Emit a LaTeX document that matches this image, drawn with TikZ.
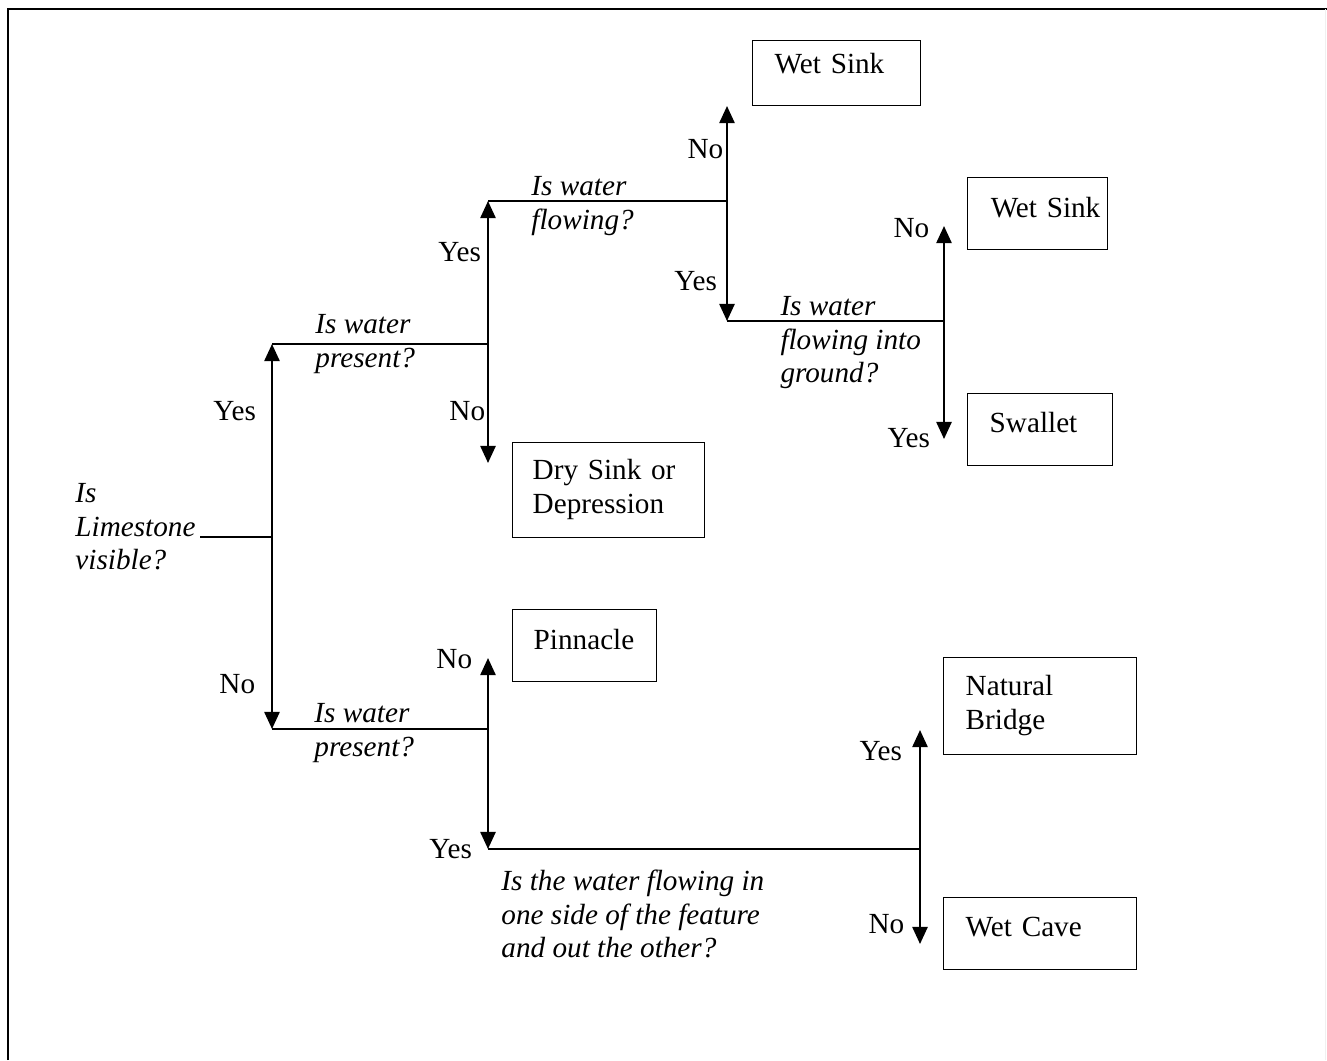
\documentclass[tikz,border=0pt]{standalone}
\usepackage{fontspec}
\setmainfont{Liberation Serif}
\usetikzlibrary{arrows.meta}
\newdimen\pxu \pxu=0.411pt
\begin{document}
\begin{tikzpicture}[x=0.411pt, y=-0.411pt,
  every node/.append style={font=\fontsize{12}{13.8}\selectfont},
  vline/.style={line width=0.9pt, -{Triangle[width=6.2pt,length=7pt]}},
  hline/.style={line width=0.55pt},
  lbl/.style={anchor=base west, inner sep=0pt},
  qtext/.style={anchor=north west, inner sep=0pt, align=left, font=\fontsize{12}{13.8}\selectfont\itshape},
  box/.style={draw, line width=0.6pt, anchor=north west, inner sep=0pt, align=left}]
\useasboundingbox (0,0) rectangle (1327,1060);
% frame
\draw[line width=0.9pt] (8,1060) -- (8,9) -- (1327,9);
\draw[gray!12, line width=0.4pt] (1325.5,9) -- (1325.5,1060);

% boxes
\node[box, text width=168*\pxu] (ws1) at (752,40) {\hspace*{22\pxu}\rule{0pt}{33\pxu}Wet Sink\rule[-32\pxu]{0pt}{32\pxu}};
\node[box, text width=140*\pxu] (ws2) at (967,177) {\hspace*{23\pxu}\rule{0pt}{40\pxu}Wet Sink\rule[-32\pxu]{0pt}{32\pxu}};
\node[box, text width=145*\pxu] (sw) at (967,393) {\hspace*{22\pxu}\rule{0pt}{39\pxu}Swallet\rule[-33\pxu]{0pt}{33\pxu}};
\node[box, text width=192*\pxu] (ds) at (512,442) {\hspace*{20\pxu}\rule{0pt}{37\pxu}Dry Sink or\\\hspace*{20\pxu}Depression\rule[-24\pxu]{0pt}{24\pxu}};
\node[box, text width=144*\pxu] (pin) at (512,609) {\hspace*{21\pxu}\rule{0pt}{40\pxu}Pinnacle\rule[-32\pxu]{0pt}{32\pxu}};
\node[box, text width=193*\pxu] (nb) at (943,657) {\hspace*{22\pxu}\rule{0pt}{38\pxu}Natural\\\hspace*{22\pxu}Bridge\rule[-25\pxu]{0pt}{25\pxu}};
\node[box, text width=193*\pxu] (wc) at (943,897) {\hspace*{22\pxu}\rule{0pt}{39\pxu}Wet Cave\rule[-33\pxu]{0pt}{33\pxu}};

% question texts (top = first baseline - 23.5px)
\node[qtext] (q0) at (75,478.5) {\strut Is\\Limestone\\visible?};
\node[qtext] (q1) at (315,309.5) {\strut Is water\\present?};
\node[qtext] (q2) at (531,171.5) {\strut Is water\\flowing?};
\node[qtext] (q3) at (780,291.5) {\strut Is water\\flowing into\\ground?};
\node[qtext] (q4) at (314,698.5) {\strut Is water\\present?};
\node[qtext] (q5) at (501,866.5) {\strut Is the water flowing in\\one side of the feature\\and out the other?};

% junctions and arrow ends
\coordinate (s0) at (200,537);
\coordinate (j0) at (272,537);
\coordinate (t0u) at (272,344);
\coordinate (t0d) at (272,729);
\coordinate (j1) at (488,344);
\coordinate (t1u) at (488,201);
\coordinate (t1d) at (488,463);
\coordinate (j2) at (727,201);
\coordinate (t2u) at (727,106);
\coordinate (t2d) at (727,321);
\coordinate (j3) at (944,321);
\coordinate (t3u) at (944,226);
\coordinate (t3d) at (944,439);
\coordinate (j4) at (488,729);
\coordinate (t4u) at (488,658);
\coordinate (t4d) at (488,849);
\coordinate (j5) at (920,849);
\coordinate (t5u) at (920,730);
\coordinate (t5d) at (920,944);

% horizontal connectors
\draw[hline] (s0) -- (j0);
\draw[hline] (t0u) -- (j1);
\draw[hline] (t1u) -- (j2);
\draw[hline] (t2d) -- (j3);
\draw[hline] (t0d) -- (j4);
\draw[hline] (t4d) -- (j5);

% vertical arrows
\draw[vline] (j0) -- (t0u);
\draw[vline] (j0) -- (t0d);
\draw[vline] (j1) -- (t1u);
\draw[vline] (j1) -- (t1d);
\draw[vline] (j2) -- (t2u);
\draw[vline] (j2) -- (t2d);
\draw[vline] (j3) -- (t3u);
\draw[vline] (j3) -- (t3d);
\draw[vline] (j4) -- (t4u);
\draw[vline] (j4) -- (t4d);
\draw[vline] (j5) -- (t5u);
\draw[vline] (j5) -- (t5d);

% Yes / No labels
\node[lbl] (l0y) at (213,420) {Yes};
\node[lbl] (l0n) at (219,693) {No};
\node[lbl] (l1y) at (438,261) {Yes};
\node[lbl] (l1n) at (449,420) {No};
\node[lbl] (l2n) at (687,158) {No};
\node[lbl] (l2y) at (674,290) {Yes};
\node[lbl] (l3n) at (893,237) {No};
\node[lbl] (l3y) at (887,447) {Yes};
\node[lbl] (l4n) at (436,668) {No};
\node[lbl] (l4y) at (429,858) {Yes};
\node[lbl] (l5y) at (859,760) {Yes};
\node[lbl] (l5n) at (868,933) {No};
\end{tikzpicture}
\end{document}
